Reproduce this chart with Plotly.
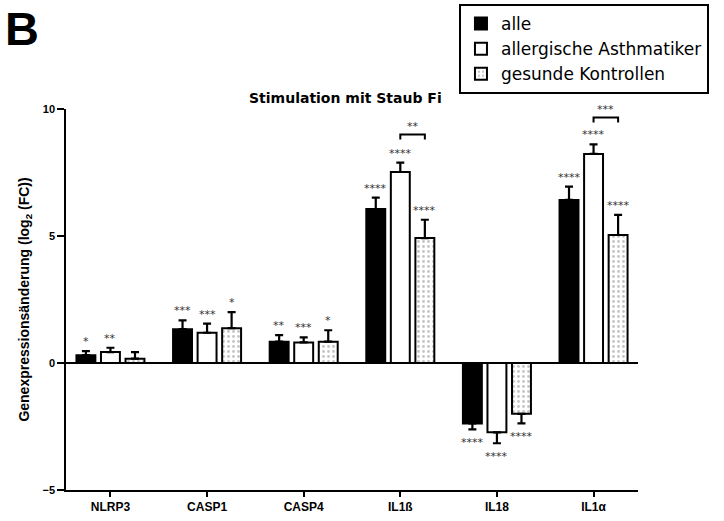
import plotly.graph_objects as go

# Genes on the x axis
genes = ["NLRP3", "CASP1", "CASP4", "IL1ß", "IL18", "IL1α"]

# Mean log2 fold change per group
alle_mean = [0.31, 1.33, 0.84, 6.06, -2.38, 6.42]
asth_mean = [0.43, 1.19, 0.81, 7.52, -2.73, 8.23]
ctrl_mean = [0.17, 1.37, 0.84, 4.92, -2.00, 5.04]

# Standard error of the mean
alle_err = [0.16, 0.35, 0.26, 0.45, 0.23, 0.52]
asth_err = [0.17, 0.36, 0.20, 0.37, 0.43, 0.38]
ctrl_err = [0.26, 0.63, 0.45, 0.72, 0.38, 0.79]

# Significance versus unstimulated
alle_sig = ["*", "***", "**", "****", "****", "****"]
asth_sig = ["**", "***", "***", "****", "****", "****"]
ctrl_sig = ["", "*", "*", "****", "****", "****"]

# Asthmatics vs. controls comparisons
cmp_genes = ["IL1ß", "IL1α"]
cmp_level = [9.0, 9.67]
cmp_sig = ["**", "***"]

FONT = "Liberation Sans, Arial, sans-serif"
WIDE = "DejaVu Sans, sans-serif"
SLOT = 0.254
WIDTH = 0.196

groups = [
    dict(name="alle", mean=alle_mean, err=alle_err, sig=alle_sig,
         fill="black", pattern=None),
    dict(name="allergische Asthmatiker", mean=asth_mean, err=asth_err, sig=asth_sig,
         fill="white", pattern=None),
    dict(name="gesunde Kontrollen", mean=ctrl_mean, err=ctrl_err, sig=ctrl_sig,
         fill="white", pattern=dict(shape=".", fgcolor="#8a8a8a", bgcolor="white",
                                   size=5, solidity=0.25)),
]

x_idx = list(range(len(genes)))
fig = go.Figure()
annotations = []

for k, g in enumerate(groups):
    shift = (k - 1) * SLOT
    up = [e if m >= 0 else 0 for m, e in zip(g["mean"], g["err"])]
    down = [e if m < 0 else 0 for m, e in zip(g["mean"], g["err"])]
    marker = dict(color=g["fill"], line=dict(color="black", width=2))
    if g["pattern"]:
        marker["pattern"] = g["pattern"]
    fig.add_trace(go.Bar(
        x=x_idx, y=g["mean"], name=g["name"],
        width=WIDTH, offset=shift - WIDTH / 2,
        marker=marker,
        error_y=dict(type="data", symmetric=False, array=up, arrayminus=down,
                     color="black", thickness=2.2, width=4),
    ))
    for i, (m, e, s) in enumerate(zip(g["mean"], g["err"], g["sig"])):
        if not s:
            continue
        pos = m >= 0
        annotations.append(dict(
            x=i + shift, y=m + e if pos else m - e, xref="x", yref="y",
            text=s, showarrow=False,
            yanchor="bottom" if pos else "top", yshift=1 if pos else -5,
            font=dict(family=WIDE, size=11, color="#333"),
        ))

# Brackets between asthmatics and controls
shapes = []
for gname, lvl, s in zip(cmp_genes, cmp_level, cmp_sig):
    i = genes.index(gname)
    xa, xb = i, i + SLOT
    shapes.append(dict(
        type="path", xref="x", yref="y",
        path=f"M {xa},{lvl - 0.2} L {xa},{lvl} L {xb},{lvl} L {xb},{lvl - 0.2}",
        line=dict(color="black", width=2),
    ))
    annotations.append(dict(
        x=(xa + xb) / 2, y=lvl, xref="x", yref="y", text=s, showarrow=False,
        yanchor="bottom", yshift=-1,
        font=dict(family=WIDE, size=11, color="#333"),
    ))

annotations.append(dict(
    x=0.488, y=1.055, xref="paper", yref="paper",
    text="<b>Stimulation mit Staub Fi</b>", showarrow=False,
    font=dict(family=WIDE, size=14, color="black"),
))
annotations.append(dict(
    x=-0.111, y=1.286, xref="paper", yref="paper", xanchor="left", yanchor="top",
    text="<b>B</b>", showarrow=False,
    font=dict(family=FONT, size=47, color="black"),
))

fig.update_layout(
    width=724, height=521,
    margin=dict(l=66, r=86, t=109, b=31, autoexpand=False),
    paper_bgcolor="white", plot_bgcolor="white",
    barmode="overlay",
    showlegend=True,
    legend=dict(
        x=0.687, y=1.2756, xanchor="left", yanchor="top",
        bordercolor="black", borderwidth=2, bgcolor="white",
        font=dict(family=WIDE, size=17, color="black"),
        tracegroupgap=0, itemsizing="constant",
    ),
    annotations=annotations,
    shapes=shapes,
    font=dict(family=FONT, color="black"),
)

fig.update_xaxes(
    range=[-0.46, 5.46], tickvals=x_idx, ticktext=genes,
    showline=True, linecolor="black", linewidth=1.5,
    ticks="outside", ticklen=5, tickwidth=1.5, tickcolor="black",
    showgrid=False, zeroline=False,
    tickfont=dict(family=FONT, size=12, color="black", weight="bold"),
)
fig.update_yaxes(
    range=[-5, 10], tickvals=[-5, 0, 5, 10],
    showline=True, linecolor="black", linewidth=1.5,
    ticks="outside", ticklen=7, tickwidth=1.5, tickcolor="black",
    showgrid=False, zeroline=True, zerolinecolor="black", zerolinewidth=1.5,
    tickfont=dict(family=FONT, size=11, color="black", weight="bold"),
    title=dict(text="Genexpressionsänderung (log<sub>2</sub> (FC))",
               font=dict(family=FONT, size=14, color="black", weight="bold"),
               standoff=10),
)

fig.write_html("out.html")
